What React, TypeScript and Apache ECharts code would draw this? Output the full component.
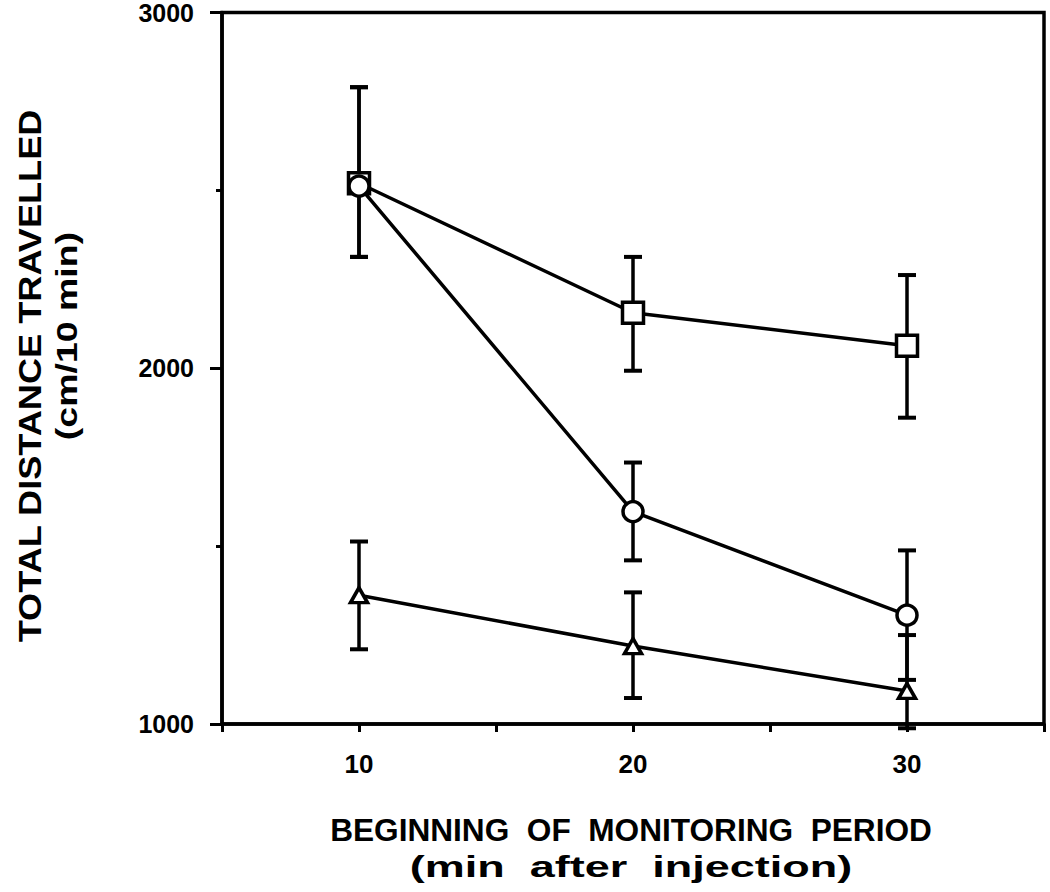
import React, { useEffect, useRef } from "react";
import * as echarts from "echarts";

const xValues = [10, 20, 30];
const squareMean = [2520, 2156, 2063];
const squareLow = [2313, 1993, 1861];
const squareHigh = [2790, 2313, 2262];
const circleMean = [2512, 1597, 1306];
const circleLow = [2313, 1460, 1124];
const circleHigh = [2790, 1735, 1488];
const triangleMean = [1362, 1219, 1093];
const triangleLow = [1210, 1073, 988];
const triangleHigh = [1513, 1370, 1250];

const yLabels = [1000, 2000, 3000];
const xLabels = [10, 20, 30];

const FONT = "'Liberation Sans', Arial, sans-serif";

function pairs(ys: number[]) {
  return xValues.map((x, i) => [x, ys[i]]);
}
function errs(lo: number[], hi: number[]) {
  return xValues.map((x, i) => [x, lo[i], hi[i]]);
}

export default function App() {
  const ref = useRef<HTMLDivElement>(null);
  useEffect(() => {
    document.body.style.margin = "0";
    const chart = echarts.init(ref.current!, null, { renderer: "svg" });
    const errorRender = (params: any, api: any) => {
      const x = api.value(0);
      const lo = api.coord([x, api.value(1)]);
      const hi = api.coord([x, api.value(2)]);
      const hw = 9;
      const style = { stroke: "#000", lineWidth: 3.5 };
      return {
        type: "group",
        children: [
          { type: "line", shape: { x1: lo[0], y1: lo[1], x2: hi[0], y2: hi[1] }, style },
          { type: "line", shape: { x1: lo[0] - hw, y1: lo[1], x2: lo[0] + hw, y2: lo[1] }, style: { stroke: "#000", lineWidth: 4 } },
          { type: "line", shape: { x1: hi[0] - hw, y1: hi[1], x2: hi[0] + hw, y2: hi[1] }, style: { stroke: "#000", lineWidth: 4 } },
        ],
      };
    };
    const lineSeries = (data: number[], symbol: string, size: any) => ({
      type: "line",
      data: pairs(data),
      symbol,
      symbolSize: size,
      showAllSymbol: true,
      z: 5,
      lineStyle: { color: "#000", width: 3.5 },
      itemStyle: { color: "#fff", borderColor: "#000", borderWidth: 3.5 },
    });
    const errSeries = (lo: number[], hi: number[]) => ({
      type: "custom",
      data: errs(lo, hi),
      renderItem: errorRender,
      z: 3,
      clip: false,
    });
    chart.setOption({
      animation: false,
      grid: {
        left: 222,
        top: 11,
        right: 6,
        bottom: 168,
        show: true,
        borderColor: "#000",
        borderWidth: 3.5,
      },
      xAxis: {
        type: "value",
        min: 5,
        max: 35,
        interval: 5,
        axisLine: { show: true, lineStyle: { color: "#000", width: 3.5 } },
        axisTick: { show: true, inside: false, length: 8, lineStyle: { color: "#000", width: 3 } },
        splitLine: { show: false },
        axisLabel: {
          color: "#000",
          fontFamily: FONT,
          fontWeight: "bold",
          fontSize: 26,
          margin: 27,
          formatter: (v: number) => (xLabels.includes(v) ? String(v) : ""),
        },
      },
      yAxis: {
        type: "value",
        min: 1000,
        max: 3000,
        interval: 1000,
        axisLine: { show: true, lineStyle: { color: "#000", width: 3.5 } },
        axisTick: { show: true, inside: false, length: 12, lineStyle: { color: "#000", width: 3 } },
        minorTick: { show: true, splitNumber: 2, length: 6, lineStyle: { color: "#000", width: 3 } },
        splitLine: { show: false },
        axisLabel: {
          color: "#000",
          fontFamily: FONT,
          fontWeight: "bold",
          fontSize: 25,
          margin: 28,
          formatter: (v: number) => (yLabels.includes(v) ? String(v) : ""),
        },
      },
      series: [
        errSeries(squareLow, squareHigh),
        errSeries(circleLow, circleHigh),
        errSeries(triangleLow, triangleHigh),
        lineSeries(squareMean, "rect", 21),
        lineSeries(circleMean, "circle", 20),
        lineSeries(triangleMean, "triangle", [17, 15]),
      ],
      graphic: [
        {
          type: "text",
          x: 30,
          y: 376,
          rotation: Math.PI / 2,
          scaleX: 1.13,
          style: {
            text: "TOTAL DISTANCE TRAVELLED",
            font: `bold 32px ${FONT}`,
            fill: "#000",
            align: "center",
            verticalAlign: "middle",
          },
        },
        {
          type: "text",
          x: 66,
          y: 336,
          rotation: Math.PI / 2,
          scaleX: 1.25,
          style: {
            text: "(cm/10 min)",
            font: `bold 30px ${FONT}`,
            fill: "#000",
            align: "center",
            verticalAlign: "middle",
          },
        },
        {
          type: "text",
          x: 631,
          y: 831,
          scaleX: 1.02,
          style: {
            text: "BEGINNING  OF  MONITORING  PERIOD",
            font: `bold 31px ${FONT}`,
            fill: "#000",
            align: "center",
            verticalAlign: "middle",
          },
        },
        {
          type: "text",
          x: 631,
          y: 866,
          scaleX: 1.5,
          style: {
            text: "(min  after  injection)",
            font: `bold 30px ${FONT}`,
            fill: "#000",
            align: "center",
            verticalAlign: "middle",
          },
        },
      ],
    });
    return () => chart.dispose();
  }, []);
  return <div ref={ref} style={{ width: 1050, height: 892 }} />;
}
